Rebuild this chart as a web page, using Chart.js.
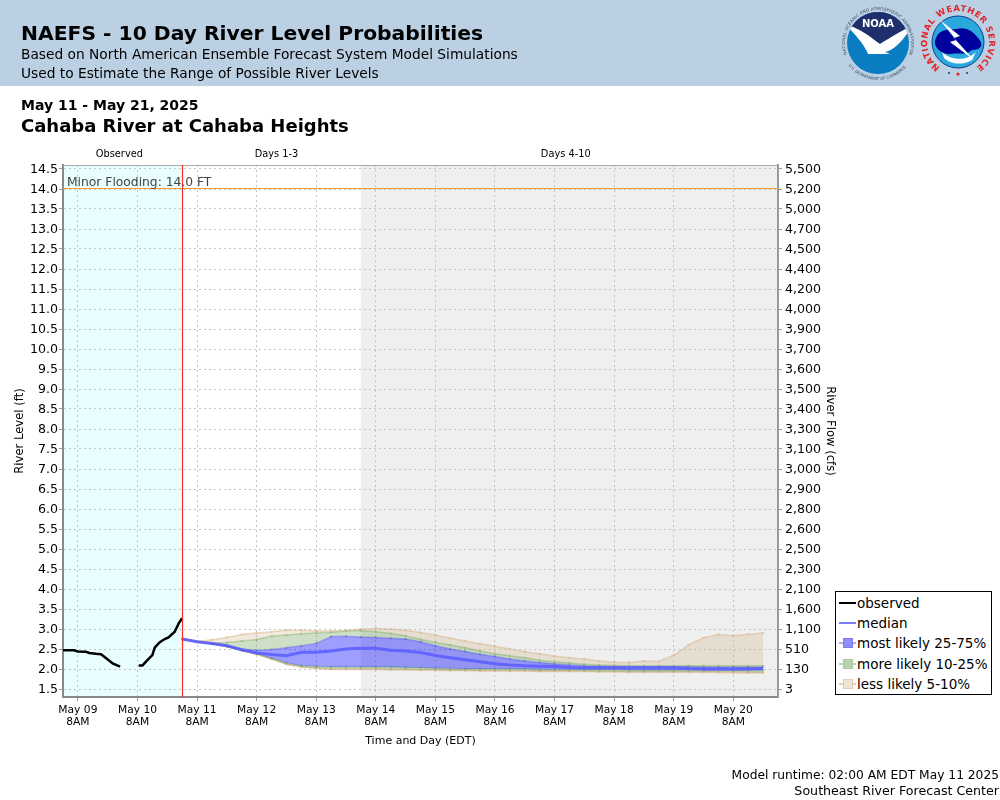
<!DOCTYPE html>
<html>
<head>
<meta charset="utf-8">
<title>NAEFS - 10 Day River Level Probabilities</title>
<script src="https://cdn.jsdelivr.net/npm/chart.js@4"></script>
<style>
  html, body { margin:0; padding:0; background:#fff; }
  body { width:1000px; height:800px; position:relative; overflow:hidden; font-family:"DejaVu Sans", sans-serif; color:#000; }
  #banner { position:absolute; left:0; top:0; width:1000px; height:86px; background:#bbd1e3; }
  .txt { position:absolute; white-space:nowrap; line-height:1; }
  #chart { position:absolute; left:0; top:0; }
  #logos { position:absolute; left:820px; top:0; }
  #legend { position:absolute; left:835px; top:591px; width:155px; height:102px; border:1.5px solid #000; background:#fff; }
  .row { position:absolute; left:3px; height:20px; width:150px; font-size:13.5px; line-height:20px; white-space:nowrap; }
  .row .ln { position:absolute; left:0; top:9px; width:17px; height:2px; }
  .row .sq { position:absolute; left:4px; top:5px; width:8px; height:8px; border:1px solid; }
  .row span { position:absolute; left:18px; top:0; }
</style>
</head>
<body>
<div id="banner"></div>
<canvas id="chart" width="1000" height="800"></canvas>
<div class="txt" style="left:21px;top:23px;font-size:20.3px;font-weight:bold">NAEFS - 10 Day River Level Probabilities</div>
<div class="txt" style="left:21px;top:48px;font-size:13.75px">Based on North American Ensemble Forecast System Model Simulations</div>
<div class="txt" style="left:21px;top:67px;font-size:13.75px">Used to Estimate the Range of Possible River Levels</div>
<div class="txt" style="left:21px;top:98px;font-size:14px;font-weight:bold">May 11 - May 21, 2025</div>
<div class="txt" style="left:21px;top:117px;font-size:18px;font-weight:bold">Cahaba River at Cahaba Heights</div>
<div class="txt" style="right:1px;top:769px;font-size:12.25px">Model runtime: 02:00 AM EDT May 11 2025</div>
<div class="txt" style="right:1px;top:785px;font-size:12.65px">Southeast River Forecast Center</div>

<svg id="logos" width="180" height="86" viewBox="0 0 180 86">
  <defs>
    <path id="noaaRing" d="M 27 54.3 A 33 33 0 1 1 89 54.3"/>
    <path id="noaaBottom" d="M 28.4 65.2 A 37 37 0 0 0 87.6 65.2"/>
    <path id="nwsRing" d="M 120.2 67.4 A 31 31 0 1 1 155.8 67.4"/>
    <clipPath id="noaaClip"><circle cx="58" cy="43" r="31"/></clipPath>
  </defs>
  <circle cx="58" cy="43" r="31" fill="#0a7cc1"/>
  <g clip-path="url(#noaaClip)">
    <path d="M 20 0 H 96 V 26 C 82 30 70 38 60 44 C 50 38 38 28 24 24 Z" fill="#1f2f6b"/>
    <path d="M 24 24 C 40 28 50 37 60 44 C 70 38 82 30 92 26 C 84 40 74 50 65 52 L 70 54 L 48 54 C 46 48 36 34 24 24 Z" fill="#fff"/>
  </g>
  <text x="58" y="27" font-size="10" font-weight="bold" fill="#fff" text-anchor="middle" font-family="DejaVu Sans">NOAA</text>
  <text font-size="4.2" fill="#3b4a5c" font-family="DejaVu Sans"><textPath href="#noaaRing" textLength="127">NATIONAL OCEANIC AND ATMOSPHERIC ADMINISTRATION</textPath></text>
  <text font-size="4" fill="#3b4a5c" font-family="DejaVu Sans"><textPath href="#noaaBottom" textLength="66">U.S. DEPARTMENT OF COMMERCE</textPath></text>

  <circle cx="138" cy="42" r="26" fill="#2aa7dc" stroke="#123a8c" stroke-width="1"/>
  <path d="M 116 38 C 120 28 130 30 136 29 C 146 26 154 32 158 38 C 164 44 162 50 152 50 C 146 56 136 52 130 54 C 120 54 112 46 116 38 Z" fill="#00009c"/>
  <path d="M 122 52 C 130 60 146 62 156 52 L 152 60 C 142 66 130 64 124 58 Z" fill="#fff"/>
  <path d="M 120 20 L 140 36 L 134 38 L 154 60 L 130 42 L 136 40 Z" fill="#fff"/>
  <text font-size="8.5" font-weight="bold" fill="#e4222a" font-family="DejaVu Sans"><textPath href="#nwsRing" textLength="156">NATIONAL WEATHER SERVICE</textPath></text>
  <circle cx="129" cy="73" r="1" fill="#123a8c"/><circle cx="138" cy="74" r="1.6" fill="#e4222a"/><circle cx="147" cy="73" r="1" fill="#123a8c"/>
</svg>

<div id="legend">
  <div class="row" style="top:1px"><div class="ln" style="background:#000"></div><span>observed</span></div>
  <div class="row" style="top:21px"><div class="ln" style="background:#7b7bff"></div><span>median</span></div>
  <div class="row" style="top:41px"><div class="ln" style="background:#a9a9f5"></div><div class="sq" style="background:#8f8ffa;border-color:#7b7bea"></div><span>most likely 25-75%</span></div>
  <div class="row" style="top:62px"><div class="ln" style="background:#bcd6b4"></div><div class="sq" style="background:#b9d2b0;border-color:#a9c9a0"></div><span>more likely 10-25%</span></div>
  <div class="row" style="top:82px"><div class="ln" style="background:#e6cfb4"></div><div class="sq" style="background:#efe4d6;border-color:#e0cdb6"></div><span>less likely 5-10%</span></div>
</div>

<script>
// hours after May 09 8AM EDT
const xMin = -6, xMax = 282;
const runtimeHour = 42, days4Hour = 114;
const dayTicks = [0,24,48,72,96,120,144,168,192,216,240,264];
const dayLabels = ['May 09','May 10','May 11','May 12','May 13','May 14','May 15','May 16','May 17','May 18','May 19','May 20'];
const panelNames = ['Observed','Days 1-3','Days 4-10'];
const panelNameHours = [16.7,80,196.5];

const levelTicks = [1.5,2,2.5,3,3.5,4,4.5,5,5.5,6,6.5,7,7.5,8,8.5,9,9.5,10,10.5,11,11.5,12,12.5,13,13.5,14,14.5];
const flowLabels = ['3','130','510','1,100','1,600','2,100','2,300','2,500','2,600','2,800','2,900','3,000','3,100','3,300','3,400','3,500','3,600','3,700','3,900','4,000','4,200','4,400','4,500','4,700','5,000','5,200','5,500'];

const obsHours = [-6,-1.5,0,3.3,4.6,7.3,9.3,11.4,14,17,20,24.5,26,28,30,31,33,35,36.5,39,40.6,42];
const obsLevel = [2.47,2.47,2.44,2.43,2.40,2.38,2.37,2.27,2.14,2.06,null,2.09,2.09,2.22,2.35,2.54,2.67,2.75,2.79,2.93,3.14,3.27];

const fcstHours = [42,48,54,60,66,72,78,84,90,96,102,108,114,120,126,132,138,144,150,156,162,168,174,180,186,192,198,204,210,216,222,228,234,240,246,252,258,264,270,276];
const median = [2.75,2.68,2.64,2.58,2.48,2.40,2.36,2.33,2.42,2.42,2.45,2.50,2.52,2.52,2.47,2.45,2.41,2.34,2.28,2.23,2.18,2.13,2.10,2.08,2.07,2.06,2.04,2.03,2.03,2.03,2.03,2.03,2.03,2.03,2.01,2.00,2.00,2.00,2.00,2.01];
const p95 = [2.75,2.69,2.73,2.79,2.86,2.90,2.93,2.97,2.97,2.95,2.95,2.97,3.00,3.01,3.00,2.97,2.91,2.85,2.77,2.70,2.63,2.57,2.50,2.43,2.38,2.32,2.28,2.25,2.20,2.17,2.16,2.20,2.19,2.35,2.60,2.78,2.86,2.83,2.87,2.90];
const p90 = [2.75,2.68,2.65,2.66,2.70,2.74,2.82,2.85,2.88,2.90,2.92,2.95,2.96,2.93,2.89,2.83,2.74,2.67,2.60,2.53,2.45,2.38,2.33,2.28,2.22,2.18,2.15,2.12,2.10,2.09,2.08,2.08,2.08,2.08,2.08,2.08,2.08,2.08,2.08,2.08];
const p75 = [2.75,2.68,2.64,2.58,2.50,2.47,2.49,2.53,2.58,2.64,2.81,2.82,2.80,2.79,2.77,2.75,2.68,2.58,2.50,2.44,2.37,2.31,2.25,2.20,2.16,2.13,2.10,2.08,2.07,2.07,2.06,2.06,2.06,2.06,2.06,2.05,2.05,2.05,2.05,2.05];
const p25 = [2.75,2.68,2.64,2.57,2.47,2.38,2.27,2.15,2.08,2.06,2.05,2.05,2.05,2.05,2.05,2.04,2.03,2.02,2.01,2.00,2.00,2.00,2.00,2.00,1.99,1.99,1.99,1.98,1.98,1.98,1.97,1.97,1.97,1.97,1.97,1.97,1.97,1.97,1.97,1.97];
const p10 = [2.75,2.68,2.63,2.56,2.46,2.37,2.25,2.12,2.05,2.02,2.00,2.00,2.00,2.00,1.99,1.99,1.98,1.98,1.97,1.97,1.96,1.96,1.96,1.96,1.95,1.95,1.95,1.95,1.94,1.94,1.93,1.93,1.93,1.93,1.93,1.93,1.93,1.93,1.92,1.92];
const p5 = [2.75,2.68,2.63,2.56,2.46,2.37,2.25,2.12,2.05,2.02,1.99,1.99,1.99,1.99,1.98,1.98,1.97,1.97,1.96,1.96,1.95,1.95,1.95,1.95,1.94,1.94,1.94,1.94,1.93,1.93,1.92,1.92,1.92,1.92,1.92,1.92,1.91,1.90,1.90,1.90];

const floodLevel = 14;

const xy = (xs, ys) => xs.map((x, i) => ({ x, y: ys[i] }));

function band(ys, line, area, fill) {
  return {
    data: xy(fcstHours, ys), borderColor: line, borderWidth: 1.5, backgroundColor: area, fill,
    pointStyle: 'rect', pointRadius: 1.5, pointBorderWidth: 0, pointBackgroundColor: line, tension: 0
  };
}
const BEIGE_L = 'rgba(214,176,130,0.45)', BEIGE_A = 'rgba(205,170,125,0.26)';
const GREEN_L = 'rgba(120,175,105,0.45)', GREEN_A = 'rgba(90,150,70,0.3)';
const BLUE_L  = 'rgba(60,60,255,0.35)',   BLUE_A  = 'rgba(0,0,255,0.38)';

// panel shading, flood line and labels
const panels = {
  id: 'panels',
  beforeDraw(c) {
    const { ctx, chartArea: a, scales: { x } } = c;
    const r = x.getPixelForValue(runtimeHour), g = x.getPixelForValue(days4Hour);
    ctx.save();
    ctx.fillStyle = '#e9ffff'; ctx.fillRect(a.left, a.top, r - a.left, a.height);
    ctx.fillStyle = '#efefef'; ctx.fillRect(g, a.top, a.right - g, a.height);
    ctx.restore();
  },
  afterDraw(c) {
    const { ctx, chartArea: a, scales: { x, y } } = c;
    const r = x.getPixelForValue(runtimeHour), f = y.getPixelForValue(floodLevel);
    ctx.save();
    ctx.strokeStyle = '#aaa';
    ctx.lineWidth = 1;
    ctx.beginPath(); ctx.moveTo(a.left, a.top + 0.5); ctx.lineTo(a.right, a.top + 0.5); ctx.stroke();
    ctx.strokeStyle = '#ff9a2e';
    ctx.lineWidth = 1.2;
    ctx.beginPath(); ctx.moveTo(a.left, Math.round(f) - 0.5); ctx.lineTo(a.right, Math.round(f) - 0.5); ctx.stroke();
    ctx.strokeStyle = '#ff2a2a';
    ctx.beginPath(); ctx.moveTo(Math.round(r) + 0.5, a.top); ctx.lineTo(Math.round(r) + 0.5, a.bottom); ctx.stroke();
    ctx.fillStyle = '#444';
    ctx.font = '12.3px "DejaVu Sans"';
    ctx.textAlign = 'left'; ctx.textBaseline = 'alphabetic';
    ctx.fillText('Minor Flooding: 14.0 FT', a.left + 4, f - 3);
    ctx.fillStyle = '#000';
    ctx.font = '9.8px "DejaVu Sans"';
    ctx.textAlign = 'center';
    panelNames.forEach((n, i) => ctx.fillText(n, x.getPixelForValue(panelNameHours[i]), 157));
    ctx.restore();
  }
};

const gridStyle = { color: '#c4c4c4', lineWidth: 1, tickColor: '#999', tickLength: 4, tickBorderDash: [] };

new Chart(document.getElementById('chart'), {
  type: 'line',
  data: {
    datasets: [
      { label: 'observed', data: xy(obsHours, obsLevel), borderColor: '#000', borderWidth: 2.5, pointRadius: 0, fill: false, spanGaps: false, order: 0 },
      { label: 'median', data: xy(fcstHours, median), borderColor: 'rgba(90,90,255,0.85)', borderWidth: 3, pointRadius: 0, fill: false, order: 1 },
      { label: 'p95', order: 2, ...band(p95, BEIGE_L, BEIGE_A, '+1') },
      { label: 'p90', order: 3, ...band(p90, GREEN_L, GREEN_A, '+1') },
      { label: 'p75', order: 4, ...band(p75, BLUE_L, BLUE_A, '+1') },
      { label: 'p25', order: 5, ...band(p25, GREEN_L, GREEN_A, '+1') },
      { label: 'p10', order: 6, ...band(p10, BEIGE_L, BEIGE_A, '+1') },
      { label: 'p5', order: 7, ...band(p5, BEIGE_L, BEIGE_A, false) }
    ]
  },
  options: {
    responsive: false, animation: false, devicePixelRatio: 1,
    layout: { padding: { left: 13, right: 163, top: 165, bottom: 52 } },
    plugins: { legend: { display: false }, tooltip: { enabled: false } },
    scales: {
      x: {
        type: 'linear', min: xMin, max: xMax,
        afterBuildTicks(s) { s.ticks = dayTicks.map(value => ({ value })); },
        afterFit(s) { s.height = 51; },
        grid: gridStyle,
        border: { color: '#888', width: 2, dash: [2, 3] },
        ticks: {
          color: '#000', font: { family: 'DejaVu Sans', size: 10.7, lineHeight: 1.12 }, maxRotation: 0, autoSkip: false, padding: 3,
          callback: v => [dayLabels[dayTicks.indexOf(v)], '8AM']
        },
        title: { display: true, text: 'Time and Day (EDT)', color: '#000', font: { family: 'DejaVu Sans', size: 11 }, padding: 0 }
      },
      y: {
        min: 1.3, max: 14.6,
        afterBuildTicks(s) { s.ticks = levelTicks.map(value => ({ value })); },
        afterFit(s) { s.width = 50; },
        grid: gridStyle,
        border: { color: '#888', width: 2, dash: [2, 3] },
        ticks: { color: '#000', font: { family: 'DejaVu Sans', size: 12.6 }, padding: 1, labelOffset: 1, autoSkip: false, callback: v => v.toFixed(1) },
        title: { display: true, text: 'River Level (ft)', color: '#000', font: { family: 'DejaVu Sans', size: 11.6 }, padding: 0 }
      },
      y1: {
        position: 'right', min: 1.3, max: 14.6,
        afterBuildTicks(s) { s.ticks = levelTicks.map(value => ({ value })); },
        afterFit(s) { s.width = 59; },
        grid: { drawOnChartArea: false, color: '#c4c4c4', tickColor: '#999', tickLength: 4 },
        border: { color: '#999', width: 2 },
        ticks: { color: '#000', font: { family: 'DejaVu Sans', size: 12.6 }, padding: 3, labelOffset: 1, autoSkip: false, callback: v => flowLabels[levelTicks.indexOf(v)] },
        title: { display: true, text: 'River Flow (cfs)', color: '#000', font: { family: 'DejaVu Sans', size: 11.6 }, padding: 0 }
      }
    }
  },
  plugins: [panels]
});
</script>
</body>
</html>
